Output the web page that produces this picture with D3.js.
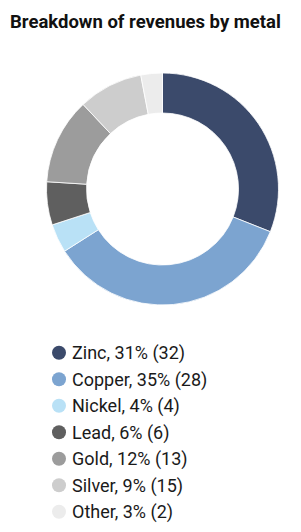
<!DOCTYPE html>
<html><head><meta charset="utf-8">
<script src="https://cdn.jsdelivr.net/npm/d3@7"></script>
<style>body{margin:0;background:#fff}</style>
</head><body><svg id="c" width="301" height="532"></svg>
<script>
const categories = ["Zinc","Copper","Nickel","Lead","Gold","Silver","Other"];
const shares = [31,35,4,6,12,9,3];
const prior = [32,28,4,6,13,15,2];
const colors = ["#3b4a6b","#7ca4d0","#b9e1f6","#5f5f5f","#9c9c9c","#cdcdcd","#ececec"];

const svg = d3.select("#c");
svg.append("text").attr("x",10).attr("y",28)
  .attr("font-family","Roboto, 'DejaVu Sans', sans-serif").attr("font-weight","bold")
  .attr("font-size",18.5).attr("fill","#111").text("Breakdown of revenues by metal");

const cx = 162.5, cy = 189, rOut = 116, rIn = 76;
const data = categories.map((c,i)=>({c, v:shares[i], p:prior[i], col:colors[i]}));
const pie = d3.pie().value(d=>d.v).sort(null);
const arc = d3.arc().innerRadius(rIn).outerRadius(rOut);
svg.append("g").attr("transform",`translate(${cx},${cy})`)
  .selectAll("path").data(pie(data)).join("path")
  .attr("d",arc).attr("fill",d=>d.data.col).attr("stroke","#fff").attr("stroke-width",0.8);

const y = d3.scaleBand().domain(categories).range([339.5, 525]).paddingInner(0);
const lg = svg.append("g");
const rows = lg.selectAll("g").data(data).join("g")
  .attr("transform",d=>`translate(0,${y(d.c)+y.bandwidth()/2})`);
rows.append("circle").attr("cx",59).attr("cy",0).attr("r",7).attr("fill",d=>d.col);
rows.append("text").attr("x",72).attr("y",6.5)
  .attr("font-family","Roboto, 'DejaVu Sans', sans-serif").attr("font-size",18)
  .attr("fill","#1a1a1a").text(d=>`${d.c}, ${d.v}% (${d.p})`);
</script></body></html>
